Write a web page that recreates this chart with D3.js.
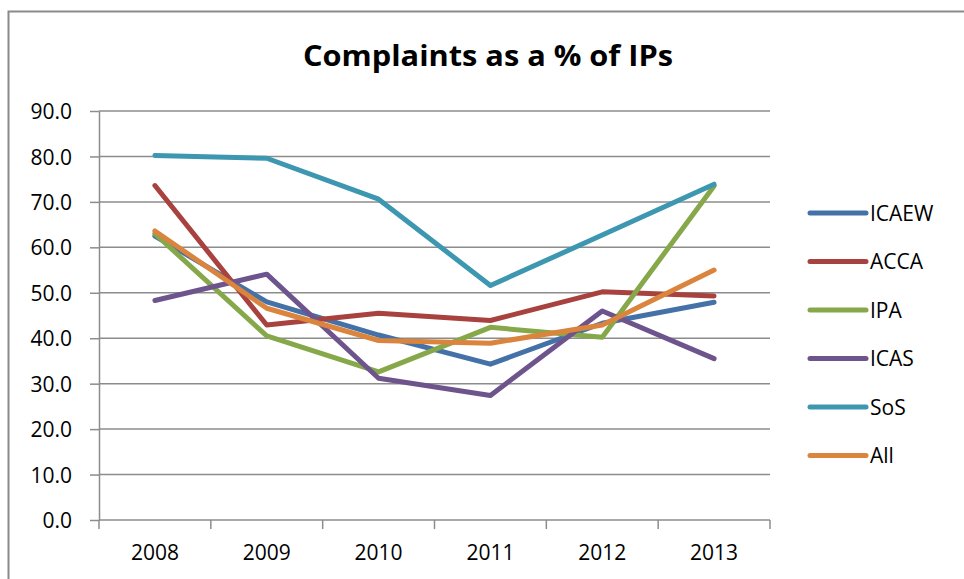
<!DOCTYPE html>
<html>

<head>
    <meta charset="UTF-8">
    <style>
        body { margin: 0; background: #fff; }
        svg { display: block; font-family: "Open Sans", sans-serif; }
        .grid line { stroke: #8c8c8c; stroke-width: 1.5px; }
        .axis path, .axis line { stroke: #8c8c8c; stroke-width: 1.5px; }
        .axis text { font-size: 21px; fill: #000; font-family: "Open Sans", sans-serif; }
        .series { fill: none; stroke-width: 5px; stroke-linejoin: round; stroke-linecap: round; }
    </style>
</head>

<body>
    <svg></svg>
    <script src="https://d3js.org/d3.v7.min.js"></script>

    <script>

        let width = 964, height = 579;

        // data
        let years = ["2008", "2009", "2010", "2011", "2012", "2013"];
        let seriesNames = ["ICAEW", "ACCA", "IPA", "ICAS", "SoS", "All"];
        let seriesColors = ["#4472a8", "#a8423f", "#86a84a", "#6e548d", "#3d97b0", "#db843d"];
        let icaew = [62.5, 48.0, 40.7, 34.3, 43.3, 47.9];
        let acca = [73.6, 42.9, 45.5, 43.9, 50.2, 49.3];
        let ipa = [63.0, 40.5, 32.6, 42.4, 40.2, 73.5];
        let icas = [48.3, 54.1, 31.2, 27.4, 46.0, 35.5];
        let sos = [80.2, 79.6, 70.6, 51.6, 62.7, 73.9];
        let all = [63.6, 46.6, 39.5, 38.9, 42.9, 55.0];
        let yTicks = [0, 10, 20, 30, 40, 50, 60, 70, 80, 90];

        let seriesValues = [icaew, acca, ipa, icas, sos, all];

        let svg = d3.select("svg")
            .attr("width", width)
            .attr("height", height);

        // outer chart border (runs past the right and bottom edge)
        svg.append("rect")
            .attr("x", 8.5).attr("y", 11.5)
            .attr("width", 1000).attr("height", 700)
            .attr("fill", "none")
            .attr("stroke", "#8a8a8a")
            .attr("stroke-width", 2);

        let plot = { left: 99, right: 770, top: 111, bottom: 520 };

        let x = d3.scaleBand().domain(years).range([plot.left, plot.right]);
        let y = d3.scaleLinear().domain([0, 90]).range([plot.bottom, plot.top]);

        // title
        svg.append("text")
            .attr("x", 488).attr("y", 66)
            .attr("text-anchor", "middle")
            .attr("font-size", 28)
            .attr("font-weight", "bold")
            .attr("textLength", 370)
            .attr("lengthAdjust", "spacingAndGlyphs")
            .text("Complaints as a % of IPs");

        // gridlines
        svg.append("g")
            .attr("class", "grid")
            .selectAll("line")
            .data(yTicks.filter(d => d > 0))
            .enter()
            .append("line")
            .attr("x1", plot.left).attr("x2", plot.right)
            .attr("y1", d => y(d)).attr("y2", d => y(d));

        // y axis
        let yAxis = d3.axisLeft(y)
            .tickValues(yTicks)
            .tickFormat(d3.format(".1f"))
            .tickSize(9)
            .tickSizeOuter(0)
            .tickPadding(18);

        svg.append("g")
            .attr("class", "axis")
            .attr("transform", "translate(" + plot.left + ",0)")
            .call(yAxis)
            .call(g => g.selectAll("text").attr("dy", "0.36em"));

        // x axis: ticks at category boundaries
        let xg = svg.append("g")
            .attr("class", "axis")
            .attr("transform", "translate(0," + plot.bottom + ")");

        xg.append("line")
            .attr("x1", plot.left).attr("x2", plot.right)
            .attr("y1", 0).attr("y2", 0);

        let boundaries = years.map(d => x(d)).concat([x(years[years.length - 1]) + x.bandwidth()]);
        xg.selectAll(".tick-b")
            .data(boundaries)
            .enter()
            .append("line")
            .attr("x1", d => d).attr("x2", d => d)
            .attr("y1", 0).attr("y2", 9);

        xg.selectAll(".lbl")
            .data(years)
            .enter()
            .append("text")
            .attr("x", d => x(d) + x.bandwidth() / 2)
            .attr("y", 40)
            .attr("text-anchor", "middle")
            .text(d => d);

        // lines
        let line = d3.line()
            .x((d, i) => x(years[i]) + x.bandwidth() / 2)
            .y(d => y(d));

        svg.append("g")
            .selectAll("path")
            .data(seriesValues)
            .enter()
            .append("path")
            .attr("class", "series")
            .attr("stroke", (d, i) => seriesColors[i])
            .attr("d", line);

        // legend
        let legend = svg.append("g")
            .selectAll("g")
            .data(seriesNames)
            .enter()
            .append("g")
            .attr("transform", (d, i) => "translate(810," + (213 + i * 48.5) + ")");

        legend.append("line")
            .attr("x1", 0).attr("x2", 56)
            .attr("stroke", (d, i) => seriesColors[i])
            .attr("stroke-width", 5)
            .attr("stroke-linecap", "round");

        legend.append("text")
            .attr("x", 60)
            .attr("dy", "0.36em")
            .attr("font-size", 21)
            .text(d => d);

    </script>

</body>

</html>
